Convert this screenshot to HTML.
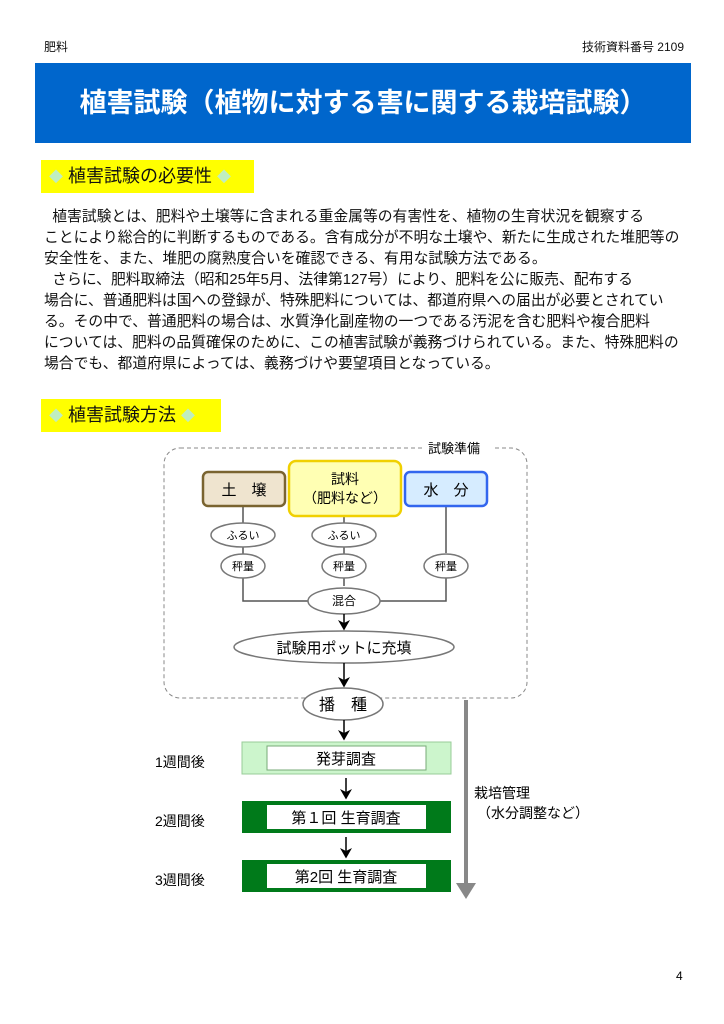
<!DOCTYPE html>
<html><head><meta charset="utf-8"><style>
body{margin:0;width:724px;height:1024px;background:#fff;position:relative;font-family:"Liberation Sans","Noto Sans CJK JP",sans-serif;color:#111;overflow:hidden}
.a{position:absolute;white-space:nowrap}
.ban{position:absolute;left:35px;top:63px;width:656px;height:80px;background:#0066cc;color:#fff;font-weight:bold;font-size:27px;line-height:80px;text-align:center}
.yb{position:absolute;background:#ffff00;font-size:18px;line-height:33px;padding-left:8px}
.yb i{color:#bfeec0;font-style:normal;font-size:14px}
.p{position:absolute;left:44px;top:207px;width:660px;font-size:14.8px;line-height:21px;white-space:nowrap;letter-spacing:0px}
</style></head><body>
<div class="a" style="left:44px;top:38px;font-size:12px">肥料</div>
<div class="a" style="right:40px;top:38px;font-size:12px">技術資料番号 2109</div>
<div class="ban">植害試験（植物に対する害に関する栽培試験）</div>
<div class="yb" style="left:41px;top:160px;width:205px;height:33px"><i>◆</i> 植害試験の必要性 <i>◆</i></div>
<div class="p">&nbsp;&nbsp;植害試験とは、肥料や土壌等に含まれる重金属等の有害性を、植物の生育状況を観察する<br>ことにより総合的に判断するものである。含有成分が不明な土壌や、新たに生成された堆肥等の<br>安全性を、また、堆肥の腐熟度合いを確認できる、有用な試験方法である。<br>&nbsp;&nbsp;さらに、肥料取締法（昭和25年5月、法律第127号）により、肥料を公に販売、配布する<br>場合に、普通肥料は国への登録が、特殊肥料については、都道府県への届出が必要とされてい<br>る。その中で、普通肥料の場合は、水質浄化副産物の一つである汚泥を含む肥料や複合肥料<br>については、肥料の品質確保のために、この植害試験が義務づけられている。また、特殊肥料の<br>場合でも、都道府県によっては、義務づけや要望項目となっている。</div>
<div class="yb" style="left:41px;top:399px;width:172px;height:33px"><i>◆</i> 植害試験方法 <i>◆</i></div>
<svg class="a" style="left:0;top:0" width="724" height="1024" font-family="Liberation Sans, Noto Sans CJK JP, sans-serif">
<defs><marker id="ar" markerWidth="8" markerHeight="8" refX="6" refY="4" orient="auto"><path d="M0,0 L7,4 L0,8 L2,4z" fill="#000"/></marker>
<marker id="ag" markerWidth="5" markerHeight="5" refX="3" refY="2.5" orient="auto"><path d="M0,0 L4,2.5 L0,5z" fill="#888"/></marker></defs>
<rect x="164" y="448" width="363" height="250" rx="16" fill="none" stroke="#888" stroke-dasharray="4,3"/>
<rect x="422" y="440" width="72" height="16" fill="#fff"/>
<text x="428" y="453" font-size="13">試験準備</text>
<g stroke="#555" stroke-width="1.5" fill="none">
<path d="M243 506V586M344 516V586M446 506V553M243 578V601H446V578"/>
</g>
<rect x="203" y="472" width="82" height="34" rx="5" fill="#efe4cf" stroke="#7a6430" stroke-width="2.5"/>
<text x="244" y="495" font-size="15" text-anchor="middle">土　壌</text>
<rect x="289" y="461" width="112" height="55" rx="7" fill="#ffffb3" stroke="#f0d000" stroke-width="2.5"/>
<text x="345" y="484" font-size="14" text-anchor="middle">試料</text>
<text x="345" y="503" font-size="14" text-anchor="middle">（肥料など）</text>
<rect x="405" y="472" width="82" height="34" rx="5" fill="#d6ecff" stroke="#3366ee" stroke-width="2.5"/>
<text x="446" y="495" font-size="15" text-anchor="middle">水　分</text>
<g fill="#fff" stroke="#777" stroke-width="1.5">
<ellipse cx="243" cy="535" rx="32" ry="12"/><ellipse cx="344" cy="535" rx="32" ry="12"/>
<ellipse cx="243" cy="566" rx="22" ry="12"/><ellipse cx="344" cy="566" rx="22" ry="12"/><ellipse cx="446" cy="566" rx="22" ry="12"/>
<ellipse cx="344" cy="601" rx="36" ry="13"/><ellipse cx="344" cy="647" rx="110" ry="16"/><ellipse cx="343" cy="704" rx="40" ry="16"/>
</g>
<g font-size="11" text-anchor="middle">
<text x="243" y="539">ふるい</text><text x="344" y="539">ふるい</text>
<text x="243" y="570">秤量</text><text x="344" y="570">秤量</text><text x="446" y="570">秤量</text>
<text x="344" y="605" font-size="12">混合</text></g>
<text x="344" y="653" font-size="15" text-anchor="middle">試験用ポットに充填</text>
<text x="343" y="710" font-size="16" text-anchor="middle">播　種</text>
<g stroke="#000" stroke-width="1.5" marker-end="url(#ar)">
<line x1="344" y1="614" x2="344" y2="629"/><line x1="344" y1="663" x2="344" y2="686"/>
<line x1="344" y1="720" x2="344" y2="739"/><line x1="346" y1="778" x2="346" y2="798"/><line x1="346" y1="837" x2="346" y2="857"/>
</g>
<line x1="466" y1="700" x2="466" y2="895" stroke="#888" stroke-width="4" marker-end="url(#ag)"/>
<rect x="242" y="742" width="209" height="32" fill="#ccf5cc" stroke="#9c9" stroke-width="1"/>
<rect x="267" y="746" width="159" height="24" fill="#fff" stroke="#7a7" stroke-width="1"/>
<rect x="242" y="801" width="209" height="32" fill="#007a1a"/>
<rect x="267" y="805" width="159" height="24" fill="#fff"/>
<rect x="242" y="860" width="209" height="32" fill="#007a1a"/>
<rect x="267" y="864" width="159" height="24" fill="#fff"/>
<g font-size="15" text-anchor="middle"><text x="346" y="764">発芽調査</text><text x="346" y="823">第１回 生育調査</text><text x="346" y="882">第2回 生育調査</text></g>
<g font-size="14"><text x="155" y="767">1週間後</text><text x="155" y="826">2週間後</text><text x="155" y="885">3週間後</text>
<text x="474" y="798">栽培管理</text><text x="477" y="818">（水分調整など）</text></g>
<text x="676" y="980" font-size="12">4</text>
</svg>
</body></html>
